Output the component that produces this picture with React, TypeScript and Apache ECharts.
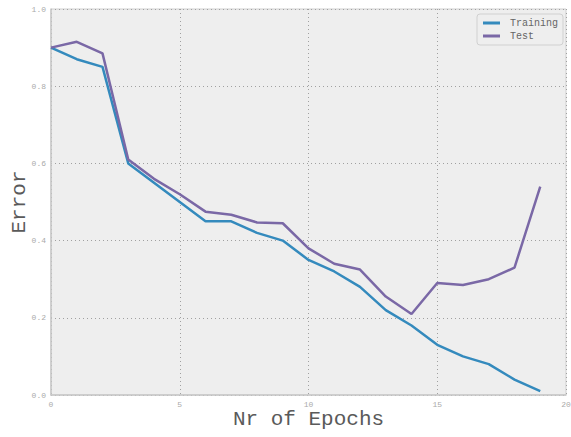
import React, { useEffect, useRef } from "react";
import * as echarts from "echarts";

const epochs = [0, 1, 2, 3, 4, 5, 6, 7, 8, 9, 10, 11, 12, 13, 14, 15, 16, 17, 18, 19];
const training = [0.9, 0.87, 0.85, 0.6, 0.55, 0.5, 0.45, 0.45, 0.42, 0.4, 0.35, 0.32, 0.28, 0.22, 0.18, 0.13, 0.1, 0.08, 0.04, 0.01];
const test = [0.9, 0.915, 0.885, 0.61, 0.56, 0.52, 0.475, 0.467, 0.447, 0.445, 0.38, 0.34, 0.325, 0.255, 0.21, 0.29, 0.285, 0.3, 0.33, 0.54];

const FONT = "'Liberation Mono', 'DejaVu Sans Mono', monospace";

export default function App() {
  const ref = useRef<HTMLDivElement>(null);
  useEffect(() => {
    if (!ref.current) return;
    const chart = echarts.init(ref.current, null, { renderer: "svg" });
    chart.setOption({
      animation: false,
      backgroundColor: "#ffffff",
      grid: {
        left: 51,
        right: 5,
        top: 9,
        bottom: 42,
        containLabel: false,
        outerBoundsMode: "none",
        show: true,
        backgroundColor: "#EEEEEE",
        borderColor: "#cfcfcf",
        borderWidth: 1,
      },
      legend: {
        orient: "vertical",
        right: 8,
        top: 14,
        data: ["Training", "Test"],
        icon: "rect",
        itemWidth: 17,
        itemHeight: 3,
        itemGap: 3,
        padding: [4, 5, 4, 6],
        borderColor: "#d0d0d0",
        borderWidth: 1,
        borderRadius: 3,
        backgroundColor: "#EEEEEE",
        textStyle: { fontFamily: FONT, fontSize: 10, color: "#666", padding: [0, 0, 0, 5] },
      },
      xAxis: {
        type: "value",
        min: 0,
        max: 20,
        interval: 5,
        name: "Nr of Epochs",
        nameLocation: "middle",
        nameGap: 24,
        nameMoveOverlap: false,
        nameTextStyle: { fontFamily: FONT, fontSize: 21, color: "#5a5a5a", verticalAlign: "middle" },
        axisLine: { show: true, lineStyle: { color: "#c8c8c8", width: 1.5 } },
        axisTick: { show: false },
        axisLabel: { fontFamily: FONT, fontSize: 8, color: "#aaa", margin: 5 },
        splitLine: { show: true, lineStyle: { type: [1, 3], color: "#a0a0a0", width: 1 } },
      },
      yAxis: {
        type: "value",
        min: 0,
        max: 1,
        interval: 0.2,
        name: "Error",
        nameLocation: "middle",
        nameGap: 32,
        nameMoveOverlap: false,
        nameTextStyle: { fontFamily: FONT, fontSize: 21, color: "#5a5a5a", verticalAlign: "middle" },
        axisLine: { show: true, lineStyle: { color: "#c8c8c8", width: 1.5 } },
        axisTick: { show: false },
        axisLabel: {
          fontFamily: FONT,
          fontSize: 8,
          color: "#aaa",
          margin: 5,
          formatter: (v: number) => v.toFixed(1),
        },
        splitLine: { show: true, lineStyle: { type: [1, 3], color: "#a0a0a0", width: 1 } },
      },
      series: [
        {
          name: "Training",
          type: "line",
          data: epochs.map((e, i) => [e, training[i]]),
          showSymbol: false,
          lineStyle: { color: "#348ABD", width: 2.5 },
          itemStyle: { color: "#348ABD" },
          z: 3,
        },
        {
          name: "Test",
          type: "line",
          data: epochs.map((e, i) => [e, test[i]]),
          showSymbol: false,
          lineStyle: { color: "#7A68A6", width: 2.5 },
          itemStyle: { color: "#7A68A6" },
          z: 4,
        },
      ],
    });
    return () => chart.dispose();
  }, []);
  return (
    <div
      ref={ref}
      style={{ width: 571, height: 437, position: "absolute", left: 0, top: 0 }}
    />
  );
}
